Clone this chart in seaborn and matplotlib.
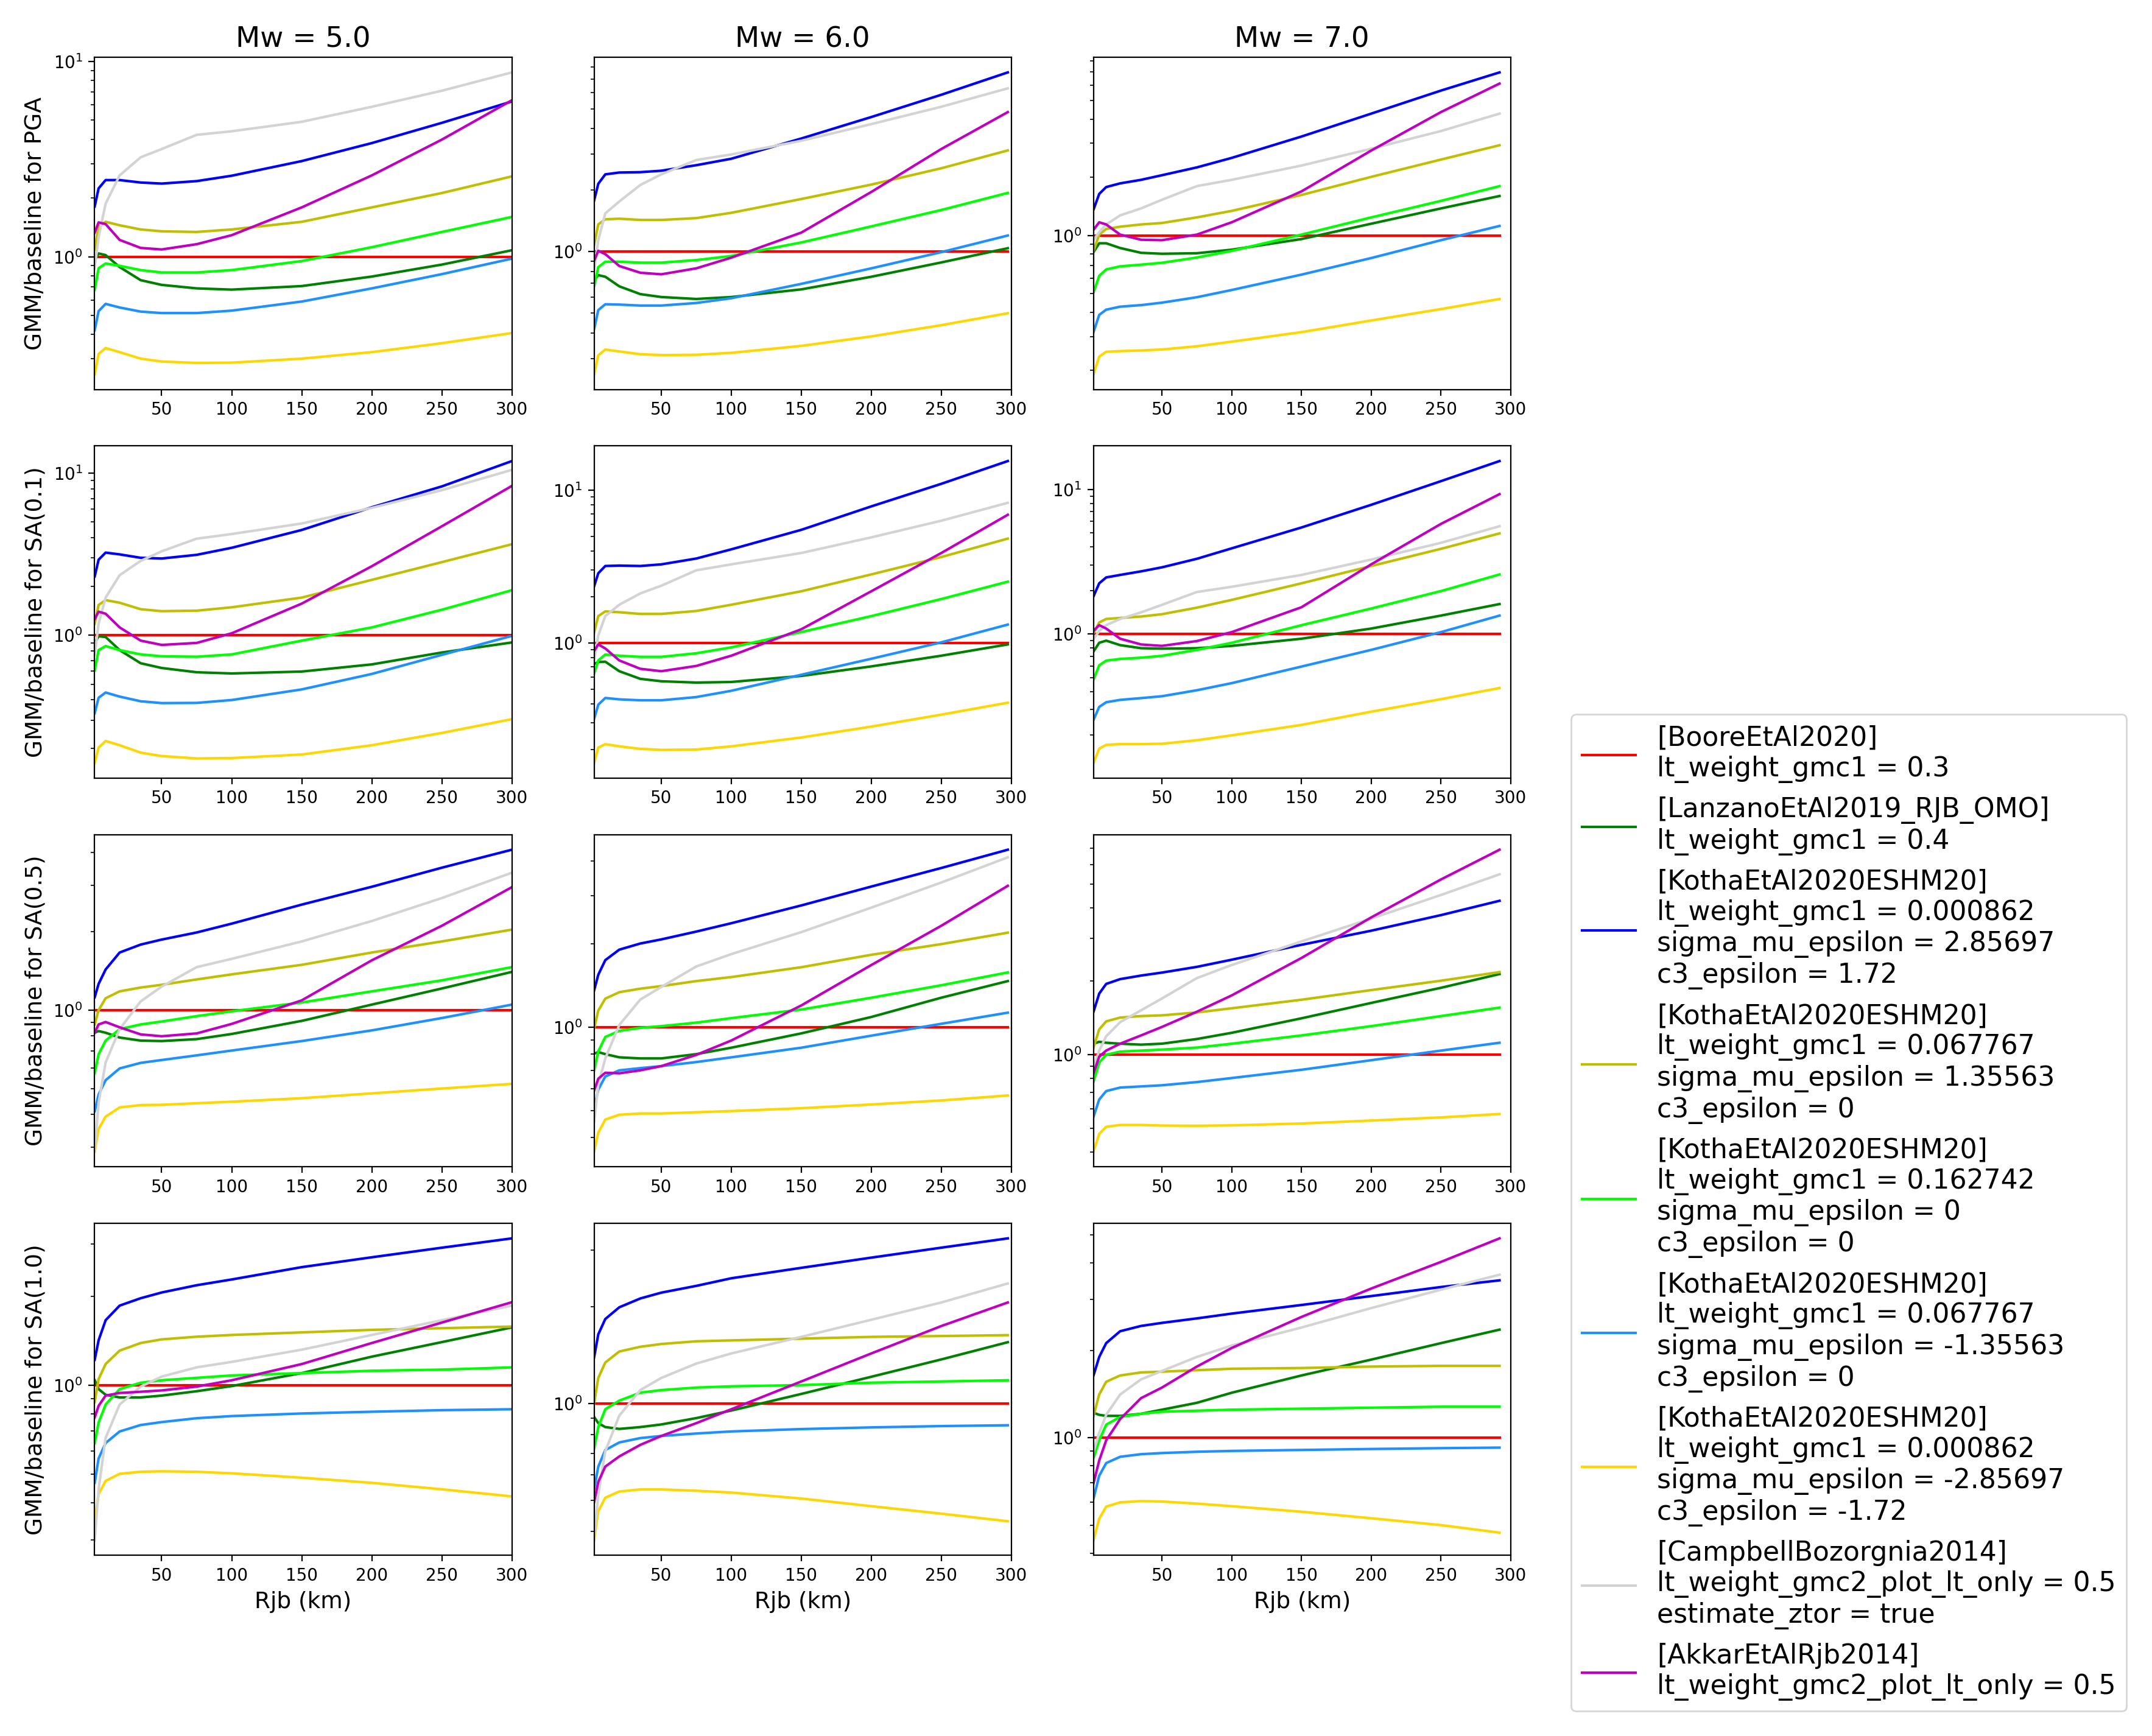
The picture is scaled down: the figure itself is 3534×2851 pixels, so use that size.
import numpy as np
import pandas as pd
import seaborn as sns
import matplotlib
matplotlib.use("Agg")
import matplotlib.pyplot as plt
from matplotlib.ticker import NullFormatter

# ---------------- data ----------------
MODELS = [
    "[BooreEtAl2020]\nlt_weight_gmc1 = 0.3",
    "[LanzanoEtAl2019_RJB_OMO]\nlt_weight_gmc1 = 0.4",
    "[KothaEtAl2020ESHM20]\nlt_weight_gmc1 = 0.000862\nsigma_mu_epsilon = 2.85697\nc3_epsilon = 1.72",
    "[KothaEtAl2020ESHM20]\nlt_weight_gmc1 = 0.067767\nsigma_mu_epsilon = 1.35563\nc3_epsilon = 0",
    "[KothaEtAl2020ESHM20]\nlt_weight_gmc1 = 0.162742\nsigma_mu_epsilon = 0\nc3_epsilon = 0",
    "[KothaEtAl2020ESHM20]\nlt_weight_gmc1 = 0.067767\nsigma_mu_epsilon = -1.35563\nc3_epsilon = 0",
    "[KothaEtAl2020ESHM20]\nlt_weight_gmc1 = 0.000862\nsigma_mu_epsilon = -2.85697\nc3_epsilon = -1.72",
    "[CampbellBozorgnia2014]\nlt_weight_gmc2_plot_lt_only = 0.5\nestimate_ztor = true",
    "[AkkarEtAlRjb2014]\nlt_weight_gmc2_plot_lt_only = 0.5",
]
COLORS = ["red", "green", "blue", "#bfbf00", "lime", "dodgerblue", "gold", "lightgray", "#bf00bf"]

IMTS = ["PGA", "SA(0.1)", "SA(0.5)", "SA(1.0)"]
MAGS = [5.0, 6.0, 7.0]

RJB_M5 = [2.2, 5, 10, 20, 35, 50, 75, 100, 150, 200, 250, 300]
RJB_M6 = [2.0, 5, 10, 20, 35, 50, 75, 100, 150, 200, 250, 297.5]
RJB_M7 = [0.9, 5, 10, 20, 35, 50, 75, 100, 150, 200, 250, 292]

ONES = [1.0] * 12

# rows: Boore, Lanzano, Kotha(+2.86), Kotha(+1.36), Kotha(0), Kotha(-1.36), Kotha(-2.86), Campbell, Akkar
PGA_M5 = [
    ONES,
    [0.964, 1.04, 1.02, 0.886, 0.759, 0.718, 0.689, 0.679, 0.708, 0.792, 0.912, 1.08],
    [1.81, 2.24, 2.47, 2.47, 2.40, 2.37, 2.44, 2.60, 3.09, 3.82, 4.85, 6.24],
    [1.09, 1.43, 1.51, 1.45, 1.38, 1.35, 1.34, 1.38, 1.51, 1.79, 2.12, 2.58],
    [0.679, 0.874, 0.924, 0.899, 0.855, 0.831, 0.831, 0.855, 0.951, 1.12, 1.34, 1.60],
    [0.421, 0.527, 0.574, 0.550, 0.524, 0.515, 0.515, 0.530, 0.590, 0.689, 0.815, 0.978],
    [0.250, 0.318, 0.341, 0.325, 0.301, 0.291, 0.286, 0.287, 0.301, 0.325, 0.361, 0.407],
    [0.874, 1.26, 1.87, 2.61, 3.23, 3.56, 4.21, 4.39, 4.91, 5.86, 7.08, 8.79],
    [1.33, 1.50, 1.47, 1.22, 1.11, 1.09, 1.16, 1.29, 1.79, 2.61, 3.98, 6.33],
]
PGA_M6 = [
    ONES,
    [0.724, 0.768, 0.754, 0.677, 0.620, 0.600, 0.587, 0.600, 0.654, 0.754, 0.886, 1.04],
    [1.78, 2.15, 2.39, 2.44, 2.45, 2.49, 2.65, 2.85, 3.58, 4.56, 5.86, 7.54],
    [1.08, 1.36, 1.44, 1.45, 1.43, 1.43, 1.46, 1.55, 1.81, 2.13, 2.56, 3.13],
    [0.677, 0.840, 0.893, 0.893, 0.884, 0.884, 0.910, 0.953, 1.11, 1.33, 1.60, 1.94],
    [0.418, 0.518, 0.553, 0.551, 0.545, 0.545, 0.561, 0.592, 0.696, 0.829, 0.995, 1.20],
    [0.251, 0.311, 0.332, 0.325, 0.315, 0.312, 0.313, 0.320, 0.346, 0.385, 0.437, 0.500],
    [0.807, 1.14, 1.54, 1.76, 2.12, 2.39, 2.81, 2.99, 3.49, 4.21, 5.12, 6.30],
    [0.903, 1.01, 0.973, 0.851, 0.789, 0.775, 0.829, 0.935, 1.24, 1.96, 3.18, 4.82],
]
PGA_M7 = [
    ONES,
    [0.820, 0.911, 0.911, 0.861, 0.813, 0.804, 0.809, 0.844, 0.958, 1.15, 1.38, 1.60],
    [1.36, 1.64, 1.78, 1.86, 1.94, 2.05, 2.25, 2.52, 3.25, 4.27, 5.62, 6.98],
    [0.832, 1.01, 1.08, 1.11, 1.14, 1.16, 1.24, 1.34, 1.62, 2.01, 2.47, 2.93],
    [0.507, 0.618, 0.667, 0.692, 0.706, 0.722, 0.769, 0.832, 1.01, 1.24, 1.51, 1.80],
    [0.316, 0.388, 0.413, 0.428, 0.436, 0.449, 0.479, 0.522, 0.627, 0.764, 0.945, 1.12],
    [0.191, 0.236, 0.250, 0.252, 0.254, 0.257, 0.267, 0.282, 0.316, 0.363, 0.416, 0.469],
    [0.945, 1.04, 1.14, 1.27, 1.38, 1.53, 1.80, 1.94, 2.30, 2.81, 3.47, 4.27],
    [1.07, 1.17, 1.14, 1.01, 0.950, 0.945, 1.01, 1.17, 1.69, 2.75, 4.35, 6.11],
]
SA01_M5 = [
    ONES,
    [0.898, 0.987, 0.977, 0.811, 0.673, 0.629, 0.592, 0.582, 0.598, 0.662, 0.784, 0.904],
    [2.31, 2.93, 3.24, 3.16, 3.01, 2.98, 3.14, 3.47, 4.47, 6.17, 8.30, 11.9],
    [1.18, 1.54, 1.65, 1.59, 1.45, 1.41, 1.42, 1.49, 1.71, 2.20, 2.83, 3.65],
    [0.608, 0.811, 0.859, 0.811, 0.763, 0.743, 0.738, 0.763, 0.928, 1.12, 1.44, 1.90],
    [0.331, 0.412, 0.444, 0.419, 0.392, 0.382, 0.383, 0.399, 0.464, 0.578, 0.758, 0.993],
    [0.163, 0.203, 0.223, 0.210, 0.189, 0.180, 0.174, 0.175, 0.184, 0.210, 0.250, 0.304],
    [0.758, 1.18, 1.71, 2.35, 2.88, 3.30, 3.95, 4.22, 4.90, 6.12, 7.87, 10.5],
    [1.26, 1.40, 1.36, 1.12, 0.928, 0.873, 0.898, 1.03, 1.57, 2.67, 4.71, 8.36],
]
SA01_M6 = [
    ONES,
    [0.729, 0.750, 0.755, 0.654, 0.583, 0.562, 0.551, 0.556, 0.609, 0.703, 0.826, 0.979],
    [2.35, 2.86, 3.19, 3.21, 3.19, 3.27, 3.57, 4.10, 5.50, 7.83, 11.0, 15.5],
    [1.17, 1.50, 1.61, 1.59, 1.55, 1.55, 1.62, 1.78, 2.18, 2.81, 3.65, 4.82],
    [0.631, 0.769, 0.841, 0.826, 0.812, 0.812, 0.857, 0.937, 1.18, 1.50, 1.94, 2.52],
    [0.319, 0.395, 0.437, 0.428, 0.422, 0.422, 0.443, 0.487, 0.620, 0.789, 1.01, 1.32],
    [0.164, 0.207, 0.218, 0.211, 0.203, 0.200, 0.201, 0.211, 0.241, 0.284, 0.340, 0.407],
    [0.769, 1.12, 1.50, 1.78, 2.11, 2.37, 2.99, 3.27, 3.88, 4.91, 6.31, 8.26],
    [0.888, 0.979, 0.921, 0.769, 0.678, 0.654, 0.708, 0.826, 1.23, 2.18, 3.88, 6.90],
]
SA01_M7 = [
    ONES,
    [0.756, 0.869, 0.899, 0.837, 0.797, 0.791, 0.797, 0.827, 0.927, 1.09, 1.34, 1.61],
    [1.82, 2.24, 2.46, 2.56, 2.71, 2.89, 3.31, 3.91, 5.45, 7.82, 11.4, 15.7],
    [1.01, 1.20, 1.27, 1.29, 1.32, 1.37, 1.52, 1.72, 2.24, 2.95, 3.88, 4.96],
    [0.483, 0.607, 0.654, 0.672, 0.685, 0.706, 0.776, 0.869, 1.15, 1.50, 1.98, 2.58],
    [0.254, 0.313, 0.337, 0.350, 0.360, 0.371, 0.408, 0.457, 0.595, 0.776, 1.03, 1.34],
    [0.128, 0.161, 0.171, 0.173, 0.173, 0.174, 0.184, 0.199, 0.235, 0.290, 0.354, 0.423],
    [0.920, 1.05, 1.15, 1.27, 1.41, 1.59, 1.95, 2.12, 2.56, 3.27, 4.27, 5.56],
    [1.05, 1.15, 1.09, 0.927, 0.846, 0.827, 0.893, 1.03, 1.53, 3.03, 5.77, 9.27],
]
SA05_M5 = [
    ONES,
    [0.820, 0.832, 0.820, 0.786, 0.765, 0.762, 0.775, 0.811, 0.910, 1.05, 1.21, 1.40],
    [1.12, 1.26, 1.43, 1.66, 1.78, 1.86, 1.98, 2.14, 2.53, 2.96, 3.50, 4.10],
    [0.882, 1.00, 1.11, 1.18, 1.22, 1.25, 1.31, 1.37, 1.49, 1.66, 1.83, 2.03],
    [0.575, 0.679, 0.765, 0.846, 0.882, 0.905, 0.949, 0.990, 1.07, 1.18, 1.30, 1.46],
    [0.411, 0.476, 0.540, 0.599, 0.629, 0.645, 0.672, 0.701, 0.762, 0.837, 0.933, 1.05],
    [0.288, 0.352, 0.392, 0.425, 0.434, 0.435, 0.441, 0.447, 0.461, 0.481, 0.502, 0.523],
    [0.291, 0.443, 0.631, 0.846, 1.08, 1.23, 1.46, 1.57, 1.83, 2.19, 2.68, 3.35],
    [0.820, 0.882, 0.901, 0.860, 0.808, 0.795, 0.815, 0.886, 1.09, 1.55, 2.10, 2.95],
]
SA05_M6 = [
    ONES,
    [0.803, 0.814, 0.800, 0.779, 0.772, 0.772, 0.800, 0.844, 0.951, 1.09, 1.28, 1.47],
    [1.36, 1.55, 1.75, 1.91, 2.01, 2.08, 2.22, 2.38, 2.76, 3.23, 3.77, 4.39],
    [0.990, 1.15, 1.27, 1.34, 1.38, 1.41, 1.47, 1.52, 1.65, 1.83, 2.00, 2.20],
    [0.699, 0.819, 0.923, 0.971, 0.996, 1.01, 1.04, 1.08, 1.16, 1.28, 1.42, 1.58],
    [0.508, 0.596, 0.664, 0.699, 0.712, 0.724, 0.749, 0.779, 0.844, 0.933, 1.03, 1.13],
    [0.355, 0.416, 0.464, 0.483, 0.488, 0.488, 0.493, 0.498, 0.510, 0.526, 0.544, 0.567],
    [0.455, 0.620, 0.772, 1.02, 1.26, 1.40, 1.66, 1.84, 2.21, 2.71, 3.34, 4.12],
    [0.590, 0.652, 0.685, 0.682, 0.699, 0.724, 0.795, 0.896, 1.20, 1.68, 2.33, 3.25],
]
SA05_M7 = [
    ONES,
    [1.11, 1.13, 1.12, 1.11, 1.10, 1.11, 1.16, 1.23, 1.41, 1.63, 1.88, 2.14],
    [1.50, 1.78, 1.95, 2.04, 2.11, 2.17, 2.29, 2.45, 2.82, 3.22, 3.73, 4.27],
    [1.07, 1.27, 1.37, 1.42, 1.44, 1.45, 1.49, 1.55, 1.68, 1.84, 2.01, 2.18],
    [0.776, 0.929, 1.00, 1.03, 1.04, 1.05, 1.07, 1.11, 1.20, 1.31, 1.44, 1.56],
    [0.557, 0.656, 0.710, 0.734, 0.742, 0.750, 0.773, 0.803, 0.868, 0.950, 1.04, 1.12],
    [0.401, 0.474, 0.507, 0.516, 0.516, 0.513, 0.512, 0.514, 0.523, 0.538, 0.554, 0.572],
    [0.888, 1.04, 1.19, 1.36, 1.52, 1.70, 2.06, 2.33, 2.91, 3.61, 4.51, 5.48],
    [0.839, 0.982, 1.04, 1.11, 1.20, 1.30, 1.50, 1.75, 2.49, 3.65, 5.22, 6.91],
]
SA10_M5 = [
    ONES,
    [1.04, 0.971, 0.929, 0.910, 0.910, 0.923, 0.955, 0.994, 1.10, 1.25, 1.40, 1.57],
    [1.22, 1.42, 1.66, 1.86, 1.97, 2.06, 2.18, 2.28, 2.51, 2.71, 2.92, 3.14],
    [0.878, 1.05, 1.18, 1.31, 1.39, 1.43, 1.46, 1.48, 1.51, 1.54, 1.56, 1.58],
    [0.638, 0.749, 0.861, 0.971, 1.02, 1.04, 1.06, 1.08, 1.10, 1.12, 1.13, 1.15],
    [0.468, 0.566, 0.638, 0.698, 0.734, 0.751, 0.774, 0.787, 0.803, 0.814, 0.824, 0.830],
    [0.350, 0.428, 0.475, 0.502, 0.510, 0.512, 0.510, 0.504, 0.487, 0.468, 0.445, 0.421],
    [0.299, 0.445, 0.664, 0.861, 0.990, 1.07, 1.15, 1.20, 1.32, 1.48, 1.66, 1.86],
    [0.779, 0.852, 0.923, 0.942, 0.951, 0.961, 0.990, 1.04, 1.18, 1.39, 1.63, 1.91],
]
SA10_M6 = [
    ONES,
    [0.908, 0.868, 0.844, 0.833, 0.844, 0.860, 0.900, 0.950, 1.07, 1.21, 1.37, 1.55],
    [1.39, 1.64, 1.83, 1.99, 2.12, 2.21, 2.32, 2.45, 2.64, 2.84, 3.05, 3.26],
    [1.00, 1.20, 1.34, 1.45, 1.50, 1.53, 1.56, 1.57, 1.59, 1.61, 1.62, 1.63],
    [0.723, 0.844, 0.959, 1.02, 1.08, 1.10, 1.12, 1.13, 1.14, 1.16, 1.17, 1.18],
    [0.540, 0.636, 0.716, 0.756, 0.780, 0.792, 0.806, 0.818, 0.832, 0.842, 0.850, 0.855],
    [0.375, 0.462, 0.509, 0.532, 0.540, 0.540, 0.535, 0.528, 0.506, 0.479, 0.454, 0.430],
    [0.382, 0.520, 0.710, 0.916, 1.10, 1.20, 1.33, 1.43, 1.61, 1.82, 2.06, 2.36],
    [0.493, 0.570, 0.636, 0.684, 0.743, 0.792, 0.868, 0.959, 1.17, 1.43, 1.74, 2.06],
]
SA10_M7 = [
    ONES,
    [1.22, 1.20, 1.19, 1.19, 1.21, 1.25, 1.32, 1.43, 1.64, 1.86, 2.12, 2.36],
    [1.64, 1.90, 2.12, 2.33, 2.43, 2.49, 2.58, 2.68, 2.87, 3.08, 3.31, 3.49],
    [1.19, 1.41, 1.56, 1.64, 1.68, 1.69, 1.71, 1.73, 1.74, 1.76, 1.77, 1.77],
    [0.852, 0.980, 1.11, 1.18, 1.21, 1.23, 1.24, 1.25, 1.26, 1.27, 1.28, 1.28],
    [0.617, 0.740, 0.818, 0.860, 0.878, 0.886, 0.895, 0.901, 0.908, 0.915, 0.921, 0.925],
    [0.443, 0.526, 0.579, 0.599, 0.605, 0.603, 0.593, 0.581, 0.556, 0.528, 0.500, 0.471],
    [0.895, 1.04, 1.20, 1.41, 1.59, 1.70, 1.90, 2.08, 2.40, 2.80, 3.24, 3.65],
    [0.697, 0.835, 0.980, 1.16, 1.37, 1.49, 1.76, 2.04, 2.61, 3.27, 4.04, 4.87],
]

PANELS = {
    ("PGA", 5.0): PGA_M5, ("PGA", 6.0): PGA_M6, ("PGA", 7.0): PGA_M7,
    ("SA(0.1)", 5.0): SA01_M5, ("SA(0.1)", 6.0): SA01_M6, ("SA(0.1)", 7.0): SA01_M7,
    ("SA(0.5)", 5.0): SA05_M5, ("SA(0.5)", 6.0): SA05_M6, ("SA(0.5)", 7.0): SA05_M7,
    ("SA(1.0)", 5.0): SA10_M5, ("SA(1.0)", 6.0): SA10_M6, ("SA(1.0)", 7.0): SA10_M7,
}
RJB = {5.0: RJB_M5, 6.0: RJB_M6, 7.0: RJB_M7}

rows = []
for (imt, mag), series in PANELS.items():
    for model, vals in zip(MODELS, series):
        for r, v in zip(RJB[mag], vals):
            rows.append((imt, mag, model, r, v))
df = pd.DataFrame(rows, columns=["imt", "mag", "model", "rjb", "ratio"])

# ---------------- figure ----------------
DPI = 200
fig, axes = plt.subplots(4, 3, figsize=(3534 / DPI, 2851 / DPI), dpi=DPI)
fig.subplots_adjust(left=0.044, right=0.702, top=0.967, bottom=0.104,
                    wspace=0.197, hspace=0.17)

TICK_FS = 10
LABEL_FS = 13.5
TITLE_FS = 16.8
LEGEND_FS = 15.9

for i, imt in enumerate(IMTS):
    for j, mag in enumerate(MAGS):
        ax = axes[i, j]
        ax.set_yscale("log")
        sub = df[(df["imt"] == imt) & (df["mag"] == mag)]
        sns.lineplot(data=sub, x="rjb", y="ratio", hue="model", hue_order=MODELS,
                     palette=COLORS, estimator=None, sort=False, legend=False,
                     linewidth=1.5, ax=ax)
        ax.set_xlim(RJB[mag][0], 300)
        ax.set_xticks([50, 100, 150, 200, 250, 300])
        ax.yaxis.set_minor_formatter(NullFormatter())
        ax.tick_params(labelsize=TICK_FS)
        ax.set_xlabel("")
        ax.set_ylabel("")
        if i == 0:
            ax.set_title(f"Mw = {mag}", fontsize=TITLE_FS)
        if j == 0:
            ax.set_ylabel(f"GMM/baseline for {imt}", fontsize=LABEL_FS)
        if i == len(IMTS) - 1:
            ax.set_xlabel("Rjb (km)", fontsize=LABEL_FS)

handles = list(axes[0, 0].get_lines()[:len(MODELS)])
fig.legend(handles, MODELS, loc="lower right",
           bbox_to_anchor=(0.9945, 0.0065), fontsize=LEGEND_FS)

fig.savefig("out.png", dpi=DPI)
